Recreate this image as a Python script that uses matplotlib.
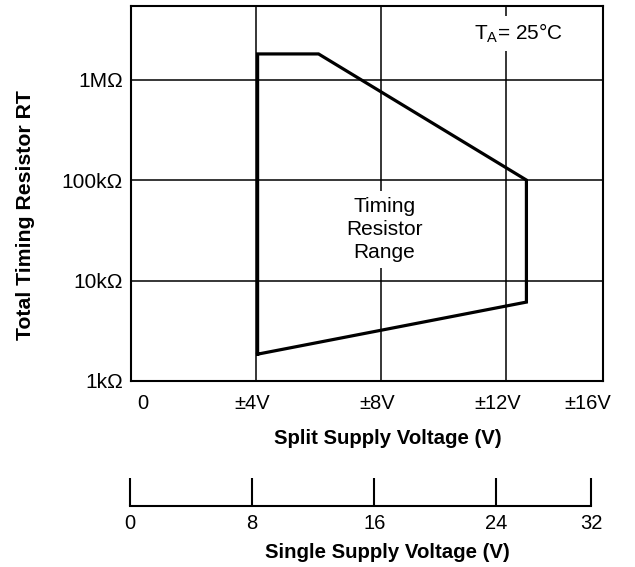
import matplotlib
matplotlib.use("Agg")
import matplotlib.pyplot as plt
import matplotlib.transforms as mtransforms

plt.rcParams['font.family'] = ['Liberation Sans', 'DejaVu Sans']
plt.rcParams['mathtext.fontset'] = 'custom'
plt.rcParams['mathtext.rm'] = 'Liberation Sans'

# timing resistor range boundary (split supply volts, ohms)
range_v = [4.05, 4.05, 6.0, 12.65, 12.65, 4.05]
range_r = [1.85e3, 1.8e6, 1.8e6, 1.0e5, 6.1e3, 1.85e3]

grid_v = [4, 8, 12]
grid_r = [1e4, 1e5, 1e6]
y_ticks = [1e3, 1e4, 1e5, 1e6]
y_labels = ['1kΩ', '10kΩ', '100kΩ', '1MΩ']

split_labels = ['0', '±4V', '±8V', '±12V', '±16V']
split_label_pos = [0.38, 3.87, 7.87, 11.74, 14.6]

single_ticks = [0, 8, 16, 24, 32]

fig = plt.figure(figsize=(6.35, 5.67), dpi=100)
ax = fig.add_axes([131/635, 1-381/567, 472/635, 375/567])
ax.set_yscale('log')
ax.set_xlim(0, 15.1)
ax.set_ylim(1e3, 5.4e6)

for r in grid_r:
    ax.axhline(r, color='black', lw=1.1, zorder=1)
for v in grid_v:
    ax.axvline(v, color='black', lw=1.1, zorder=1)

ax.plot(range_v, range_r, color='black', lw=2.3, zorder=3, solid_joinstyle='miter')

ax.set_yticks(y_ticks, y_labels, fontsize=15)
ax.minorticks_off()
ax.tick_params(axis='y', length=0, pad=6)
ax.set_xticks([])
for s in ax.spines.values():
    s.set_linewidth(1.5)

tr = mtransforms.blended_transform_factory(ax.transData, ax.transAxes)
for p, lab in zip(split_label_pos, split_labels):
    ax.text(p, -0.06, lab, transform=tr, ha='center', va='center', fontsize=14.5)

ax.text(8.1, 3.2e4, 'Timing\nResistor\nRange', ha='center', va='center', fontsize=15,
        linespacing=1.28, zorder=2,
        bbox=dict(facecolor='white', edgecolor='none', pad=4))
ax.text(12.4, 2.9e6, 'T$_\\mathrm{A}$= 25°C', ha='center', va='center', fontsize=15,
        zorder=2, bbox=dict(facecolor='white', edgecolor='none', pad=4))

fig.text(388/635, 1-438/567, 'Split Supply Voltage (V)', ha='center', va='center',
         fontsize=14.7, fontweight='bold')
fig.text(26/635, 1-215/567, 'Total Timing Resistor RT', ha='center', va='center',
         rotation=90, fontsize=15.3, fontweight='bold')

# single supply scale
ax2 = fig.add_axes([130/635, 1-506/567, 461/635, 0.001])
ax2.set_xlim(0, 30.2)
for k in ['top', 'left', 'right']:
    ax2.spines[k].set_visible(False)
ax2.spines['bottom'].set_linewidth(1.5)
ax2.set_yticks([])
ax2.set_xticks(single_ticks[:-1] + [30.2], [str(t) for t in single_ticks], fontsize=14.5)
ax2.tick_params(axis='x', direction='in', length=20, width=1.5, pad=6)
fig.text(387/635, 1-552/567, 'Single Supply Voltage (V)', ha='center', va='center',
         fontsize=14.7, fontweight='bold')

fig.savefig('out.png', dpi=100)
